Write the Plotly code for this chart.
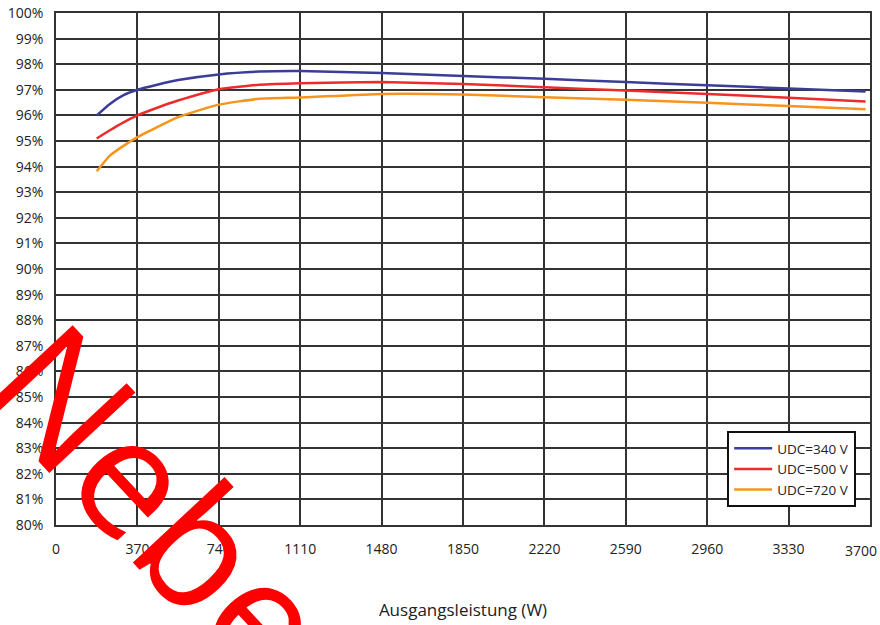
import plotly.graph_objects as go

power_w = [185, 245, 305, 370, 460, 555, 740, 925, 1110, 1480, 1850, 2220, 2590, 2960, 3330, 3680]
eff_340 = [96.0, 96.45, 96.78, 97.0, 97.2, 97.38, 97.6, 97.71, 97.73, 97.66, 97.54, 97.43, 97.30, 97.18, 97.05, 96.93]
eff_500 = [95.1, 95.42, 95.72, 96.0, 96.3, 96.58, 97.02, 97.2, 97.26, 97.30, 97.23, 97.10, 96.97, 96.84, 96.69, 96.54]
eff_720 = [93.82, 94.43, 94.8, 95.15, 95.54, 95.93, 96.42, 96.65, 96.70, 96.84, 96.82, 96.71, 96.61, 96.49, 96.37, 96.24]
series_names = ["UDC=340 V", "UDC=500 V", "UDC=720 V"]
series_colors = ["#3B3D98", "#EE2B2B", "#F7941D"]
x_ticks = [0, 370, 740, 1110, 1480, 1850, 2220, 2590, 2960, 3330, 3700]
y_ticks = list(range(80, 101))
watermark = "Nebe"

fig = go.Figure()
for name, ys, col in zip(series_names, [eff_340, eff_500, eff_720], series_colors):
    fig.add_trace(go.Scatter(x=power_w, y=ys, mode="lines", name=name,
                             line=dict(color=col, width=2.5, shape="spline", smoothing=0.5)))

grid = "#333333"
tick_font = dict(family="Open Sans", size=14, color="#222222")
fig.update_layout(
    template="none",
    width=880, height=625,
    margin=dict(l=56, r=10, t=13, b=100, autoexpand=False),
    paper_bgcolor="white", plot_bgcolor="white",
    font=dict(family="Open Sans", color="#222222", size=14),
    showlegend=True,
    legend=dict(x=0.983, y=0.035, xanchor="right", yanchor="bottom",
                bgcolor="white", bordercolor="#111111", borderwidth=2,
                font=dict(family="Open Sans", size=13.5, color="#222222"),
                tracegroupgap=0, itemwidth=38),
    xaxis=dict(range=[0, 3700], tickvals=x_ticks,
               ticktext=[str(v) for v in x_ticks[:-1]] + [""],
               automargin=False,
               showgrid=True, gridcolor=grid, gridwidth=1.5,
               showline=True, linecolor=grid, linewidth=1.5, mirror=True,
               ticks="outside", ticklen=10, tickcolor="rgba(0,0,0,0)",
               tickfont=tick_font,
               title=dict(text="Ausgangsleistung (W)",
                          font=dict(family="Open Sans", size=17, color="#222222"),
                          standoff=48),
               zeroline=False),
    yaxis=dict(range=[80, 100], tickvals=y_ticks, ticktext=[f"{v}%" for v in y_ticks],
               automargin=False,
               showgrid=True, gridcolor=grid, gridwidth=1.5,
               showline=True, linecolor=grid, linewidth=1.5, mirror=True,
               ticks="outside", ticklen=8, tickcolor="rgba(0,0,0,0)",
               tickfont=tick_font,
               zeroline=False),
)

# last x tick label, kept inside the page like in the original
fig.add_annotation(xref="x", yref="paper", x=x_ticks[-1], y=0, yshift=-14,
                   text=str(x_ticks[-1]), showarrow=False,
                   xanchor="right", yanchor="top", xshift=9,
                   font=tick_font)

fig.add_annotation(xref="paper", yref="paper", x=(162 - 56) / 814, y=(525 - 500) / 512,
                   text=watermark, showarrow=False, textangle=47,
                   font=dict(family="Open Sans", size=165, color="#FF0000"),
                   xanchor="center", yanchor="middle")

fig.write_html("out.html", config={"displayModeBar": False},
               post_script="document.body.style.margin='0';document.body.style.overflow='hidden';")
